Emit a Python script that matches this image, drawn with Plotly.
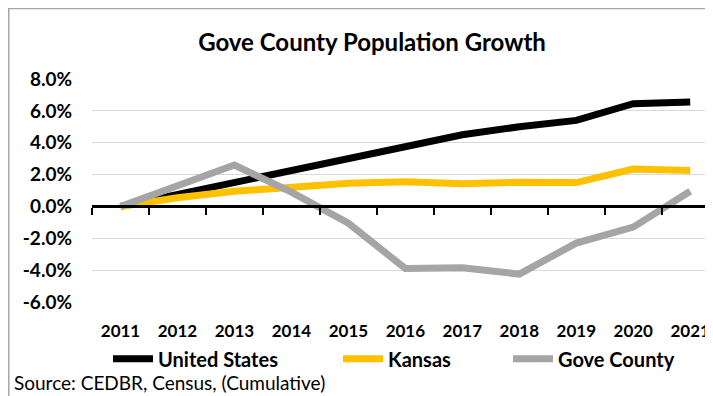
import plotly.graph_objects as go

years = ["2011", "2012", "2013", "2014", "2015", "2016", "2017", "2018", "2019", "2020", "2021"]
united_states = [0.0, 0.75, 1.55, 2.35, 3.1, 3.85, 4.5, 5.0, 5.4, 6.45, 6.55]
kansas = [0.0, 0.55, 0.95, 1.2, 1.45, 1.55, 1.42, 1.52, 1.5, 2.35, 2.25]
gove_county = [0.0, 1.3, 2.6, 0.9, -1.05, -3.9, -3.85, -4.25, -2.3, -1.3, 0.95]
y_ticks = [-6, -4, -2, 0, 2, 4, 6, 8]
y_tick_labels = ["-6.0%", "-4.0%", "-2.0%", "0.0%", "2.0%", "4.0%", "6.0%", "8.0%"]

FONT = "Lato"
OFF = 8  # page body margin
W, H = 713 - OFF, 396 - OFF
# plot area in page pixels
PL, PR, PT, PB = 92, 713, 79.3, 302.3
L, R, T, B = PL - OFF, 0, PT - OFF, H - (PB - OFF)
pw, ph = W - L - R, H - T - B

def px_x(p):
    return (p - PL) / pw

def px_y(p):
    return (PB - p) / ph

fig = go.Figure()
series = [("United States", united_states, "#000000", "legend"),
          ("Kansas", kansas, "#FFC000", "legend2"),
          ("Gove County", gove_county, "#A5A5A5", "legend3")]
for name, vals, col, lg in series:
    fig.add_trace(go.Scatter(x=years, y=vals, name="<b>%s</b>" % name, mode="lines",
                             line=dict(color=col, width=7), legend=lg,
                             hoverinfo="skip"))

# invisible trace to host the zero-crossing axis
fig.add_trace(go.Scatter(x=years, y=[0]*len(years), xaxis="x2", mode="lines",
                         line=dict(width=0), showlegend=False, hoverinfo="skip"))

xr = [-0.5, 10.4]
leg_common = dict(orientation="h", bgcolor="rgba(0,0,0,0)", borderwidth=0,
                  font=dict(family=FONT, size=20, color="#000000"),
                  yanchor="middle", xanchor="left", itemwidth=40)
fig.update_layout(
    width=W, height=H,
    margin=dict(l=L, r=R, t=T, b=B, autoexpand=False),
    paper_bgcolor="white", plot_bgcolor="white",
    title=dict(text="<b>Gove County Population Growth</b>", x=(372 - OFF) / W, xanchor="center",
               y=1 - (43 - OFF) / H, yanchor="middle", yref="container",
               font=dict(family=FONT, size=24, color="#000000")),
    xaxis=dict(type="category", range=xr, showgrid=False, showline=False, zeroline=False,
               ticks="", tickfont=dict(family=FONT, size=17, color="#000000"),
               ticklabelstandoff=17, tickprefix="<b>", ticksuffix="</b>"),
    xaxis2=dict(type="category", range=xr, overlaying="x", anchor="free", side="bottom",
                position=6 / 14, showgrid=False, showline=True, linecolor="#000000",
                linewidth=2.5, ticks="outside", ticklen=7, tickwidth=2, tickcolor="#000000",
                tickson="boundaries", showticklabels=False, zeroline=False),
    yaxis=dict(range=[-6, 8], tickvals=y_ticks, ticktext=["<b>%s</b>" % t for t in y_tick_labels],
               showgrid=True, gridcolor="#D9D9D9", gridwidth=1, zeroline=False,
               showline=False, ticks="", ticklabelstandoff=19,
               tickfont=dict(family=FONT, size=19, color="#000000")),
    legend=dict(x=px_x(108), y=px_y(359), **leg_common),
    legend2=dict(x=px_x(338), y=px_y(359), **leg_common),
    legend3=dict(x=px_x(508), y=px_y(359), **leg_common),
    showlegend=True,
)

fig.add_annotation(text="Source: CEDBR, Census, (Cumulative)", xref="paper", yref="paper",
                   x=px_x(12), y=px_y(383), xanchor="left", yanchor="middle",
                   showarrow=False, font=dict(family=FONT, size=19, color="#000000"))

fig.add_shape(type="rect", xref="paper", yref="paper", layer="below",
              x0=px_x(8.75), x1=px_x(740), y0=px_y(440), y1=px_y(8.75),
              line=dict(color="#A6A6A6", width=1.5), fillcolor="rgba(0,0,0,0)")

fig.write_html("out.html")
